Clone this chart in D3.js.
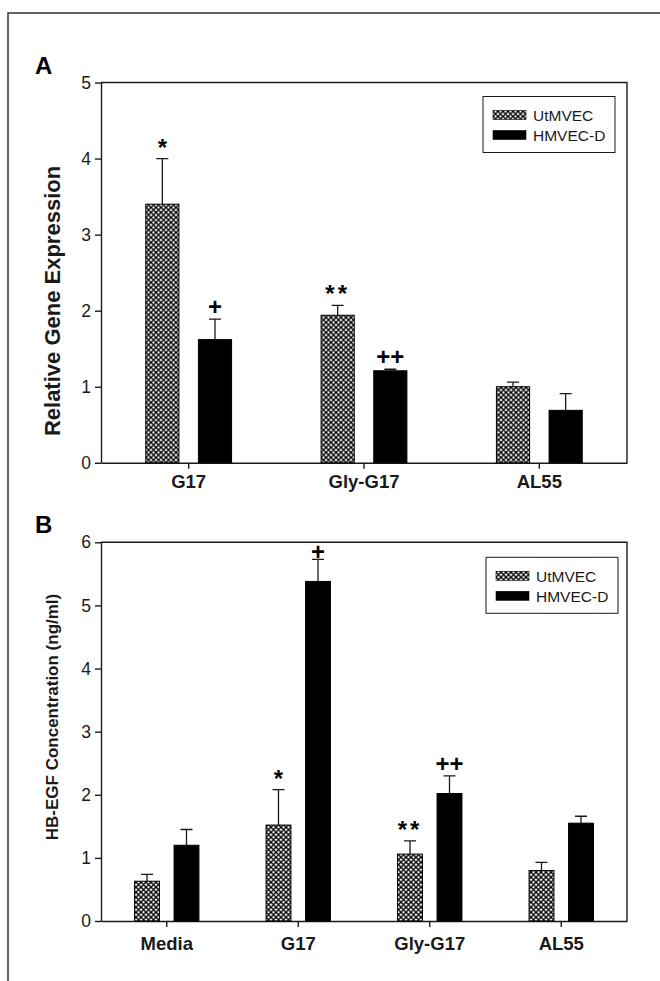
<!DOCTYPE html>
<html>
<head>
<meta charset="utf-8">
<script src="https://cdn.jsdelivr.net/npm/d3@7"></script>
<style>
  body { margin: 0; background: #fff; }
  svg { display: block; font-family: "Liberation Sans", Arial, sans-serif; }
</style>
</head>
<body>
<div id="chart"></div>
<script>
// series shared by both panels
var seriesNames = ["UtMVEC", "HMVEC-D"];

// panel A: relative gene expression
var catsA = ["G17", "Gly-G17", "AL55"];
var utA = [3.40, 1.94, 1.00];
var utAErr = [0.60, 0.13, 0.06];
var hmA = [1.62, 1.21, 0.69];
var hmAErr = [0.27, 0.02, 0.22];
var utAMarks = ["*", "**", ""];
var hmAMarks = ["+", "++", ""];

// panel B: HB-EGF concentration
var catsB = ["Media", "G17", "Gly-G17", "AL55"];
var utB = [0.63, 1.52, 1.06, 0.80];
var utBErr = [0.11, 0.56, 0.21, 0.13];
var hmB = [1.20, 5.38, 2.02, 1.55];
var hmBErr = [0.25, 0.35, 0.28, 0.11];
var utBMarks = ["", "*", "**", ""];
var hmBMarks = ["", "+", "++", ""];

var width = 660, height = 981;
var ink = "#1a1a1a";

var svg = d3.select("#chart").append("svg")
    .attr("width", width)
    .attr("height", height);

var defs = svg.append("defs");
var pat = defs.append("pattern")
    .attr("id", "hatch")
    .attr("width", 5)
    .attr("height", 5)
    .attr("patternUnits", "userSpaceOnUse");
pat.append("rect").attr("width", 5).attr("height", 5).attr("fill", "#fff");
pat.append("path")
    .attr("d", "M0,0L5,5M5,0L0,5M-1,4L1,6M4,-1L6,1M4,6L6,4M-1,1L1,-1")
    .attr("stroke", "#000")
    .attr("stroke-width", 1.35);

// outer figure frame (open at right and bottom)
svg.append("path")
    .attr("d", "M8," + height + "V13H" + width)
    .attr("fill", "none")
    .attr("stroke", "#333")
    .attr("stroke-width", 1.5);

function drawPanel(o) {
    var g = svg.append("g").attr("transform", "translate(" + o.left + "," + o.top + ")");

    var x0 = d3.scaleBand().domain(o.cats).range([0, o.w]);
    var x1 = d3.scaleBand().domain(seriesNames).range([0, x0.bandwidth()])
        .paddingInner(0.37).paddingOuter(0.85);
    var y = d3.scaleLinear().domain([0, o.ymax]).range([o.h, 0]);

    // plot frame top and right
    g.append("path")
        .attr("d", "M0,0H" + o.w + "V" + o.h)
        .attr("fill", "none")
        .attr("stroke", ink)
        .attr("stroke-width", 1.4);

    var yAxis = g.append("g")
        .call(d3.axisLeft(y).ticks(o.ymax).tickSize(6).tickSizeOuter(0).tickPadding(4));
    yAxis.selectAll("text").attr("font-size", 17.5).attr("fill", ink).attr("font-family", null);

    var xAxis = g.append("g")
        .attr("transform", "translate(0," + o.h + ")")
        .call(d3.axisBottom(x0).tickSize(6).tickSizeOuter(0).tickPadding(o.xpad));
    xAxis.selectAll("text").attr("font-size", 18.5).attr("font-weight", "bold")
        .attr("fill", ink).attr("font-family", null);

    [yAxis, xAxis].forEach(function (a) {
        a.selectAll("path, line").attr("stroke", ink).attr("stroke-width", 1.4);
    });

    var series = [
        { name: "UtMVEC", vals: o.ut, errs: o.utErr, marks: o.utMarks, fill: "url(#hatch)" },
        { name: "HMVEC-D", vals: o.hm, errs: o.hmErr, marks: o.hmMarks, fill: "#000" }
    ];

    series.forEach(function (s) {
        var rows = o.cats.map(function (c, i) {
            return { cat: c, v: s.vals[i], e: s.errs[i], m: s.marks[i] };
        });
        var cx = function (d) { return x0(d.cat) + x1(s.name) + x1.bandwidth() / 2; };

        // error bars (upper only), drawn under the bars
        g.selectAll(null).data(rows).enter().append("path")
            .attr("d", function (d) {
                var xc = cx(d), yt = y(d.v + d.e);
                return "M" + xc + "," + y(d.v) + "V" + yt + "M" + (xc - 6) + "," + yt + "H" + (xc + 6);
            })
            .attr("fill", "none")
            .attr("stroke", ink)
            .attr("stroke-width", 1.3);

        g.selectAll(null).data(rows).enter().append("rect")
            .attr("x", function (d) { return x0(d.cat) + x1(s.name); })
            .attr("y", function (d) { return y(d.v); })
            .attr("width", x1.bandwidth())
            .attr("height", function (d) { return o.h - y(d.v); })
            .attr("fill", s.fill)
            .attr("stroke", "#000")
            .attr("stroke-width", 1);

        // significance marks, kept inside the plot frame
        g.selectAll(null).data(rows.filter(function (d) { return d.m; })).enter().append("text")
            .attr("x", cx)
            .attr("y", function (d) {
                var top = y(d.v + d.e);
                return d.m.charAt(0) === "*" ? top - 3 : Math.max(top - 4, 18);
            })
            .attr("text-anchor", "middle")
            .attr("font-weight", "bold")
            .attr("font-size", 24)
            .attr("letter-spacing", function (d) { return d.m === "**" ? 3 : 0; })
            .attr("fill", "#000")
            .text(function (d) { return d.m; });
    });

    // y axis title
    svg.append("text")
        .attr("transform", "translate(" + o.titleX + "," + o.titleY + ") rotate(-90)")
        .attr("text-anchor", "middle")
        .attr("dominant-baseline", "central")
        .attr("font-weight", "bold")
        .attr("font-size", o.titleSize)
        .attr("fill", ink)
        .text(o.title);

    // panel letter
    svg.append("text")
        .attr("x", 35)
        .attr("y", o.top - 9)
        .attr("font-weight", "bold")
        .attr("font-size", 24)
        .attr("fill", "#000")
        .text(o.letter);

    // legend
    var lg = g.append("g").attr("transform", "translate(" + o.legX + "," + o.legY + ")");
    lg.append("rect")
        .attr("width", 132).attr("height", 56)
        .attr("fill", "#fff").attr("stroke", ink).attr("stroke-width", 1);
    series.forEach(function (s, i) {
        lg.append("rect")
            .attr("x", 10).attr("y", 14 + i * 20)
            .attr("width", 33).attr("height", 9)
            .attr("fill", s.fill)
            .attr("stroke", "#000").attr("stroke-width", 0.6);
        lg.append("text")
            .attr("x", 50).attr("y", 19 + i * 20)
            .attr("dominant-baseline", "central")
            .attr("font-size", 15.5)
            .attr("fill", ink)
            .text(s.name);
    });
}

drawPanel({
    letter: "A", left: 101, top: 82.5, w: 526, h: 380.3, ymax: 5,
    cats: catsA, ut: utA, utErr: utAErr, hm: hmA, hmErr: hmAErr,
    utMarks: utAMarks, hmMarks: hmAMarks, xpad: 6,
    title: "Relative Gene Expression", titleX: 52, titleY: 301, titleSize: 22,
    legX: 382, legY: 14
});

drawPanel({
    letter: "B", left: 101, top: 542.3, w: 526, h: 378.7, ymax: 6,
    cats: catsB, ut: utB, utErr: utBErr, hm: hmB, hmErr: hmBErr,
    utMarks: utBMarks, hmMarks: hmBMarks, xpad: 10,
    title: "HB-EGF Concentration (ng/ml)", titleX: 52, titleY: 717, titleSize: 17,
    legX: 385, legY: 15
});
</script>
</body>
</html>
